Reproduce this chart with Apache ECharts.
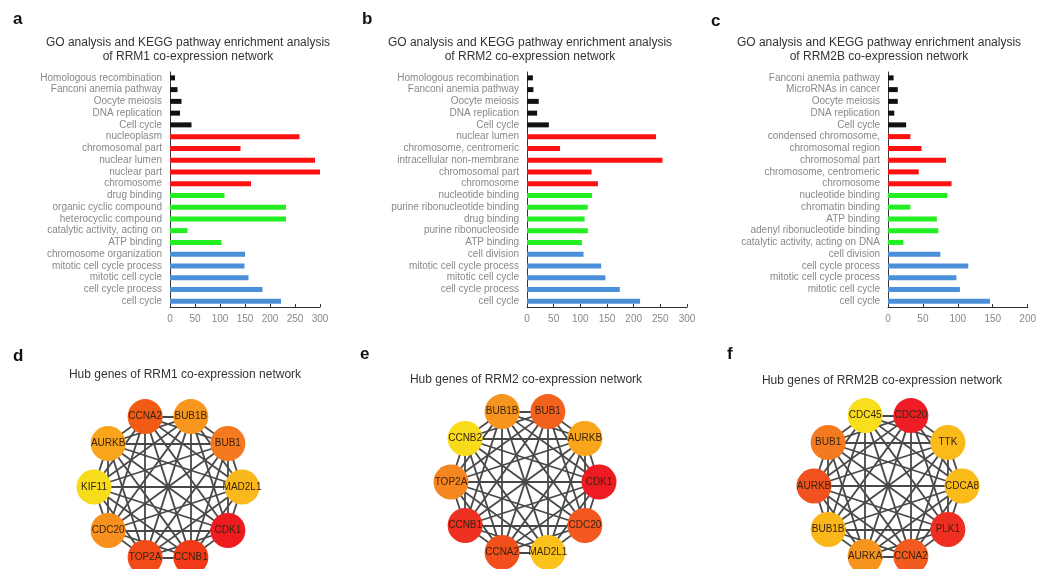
<!DOCTYPE html>
<html>
<head>
<meta charset="utf-8">
<script src="https://cdn.jsdelivr.net/npm/echarts@6/dist/echarts.min.js"></script>
<style>
  html, body { margin: 0; padding: 0; background: #fff; }
  #main { width: 1039px; height: 569px; }
</style>
</head>
<body>
<div id="main"></div>
<script>
// bar chart data, top to bottom
var catsA = ['Homologous recombination', 'Fanconi anemia pathway', 'Oocyte meiosis', 'DNA replication', 'Cell cycle',
    'nucleoplasm', 'chromosomal part', 'nuclear lumen', 'nuclear part', 'chromosome',
    'drug binding', 'organic cyclic compound', 'heterocyclic compound', 'catalytic activity, acting on', 'ATP binding',
    'chromosome organization', 'mitotic cell cycle process', 'mitotic cell cycle', 'cell cycle process', 'cell cycle'];
var valsA = [10, 15, 23, 20, 43, 259, 141, 290, 303, 162, 109, 232, 232, 35, 103, 150, 149, 157, 185, 222];

var catsB = ['Homologous recombination', 'Fanconi anemia pathway', 'Oocyte meiosis', 'DNA replication', 'Cell cycle',
    'nuclear lumen', 'chromosome, centromeric', 'intracellular non-membrane', 'chromosomal part', 'chromosome',
    'nucleotide binding', 'purine ribonucleotide binding', 'drug binding', 'purine ribonucleoside', 'ATP binding',
    'cell division', 'mitotic cell cycle process', 'mitotic cell cycle', 'cell cycle process', 'cell cycle'];
var valsB = [11, 12, 22, 19, 41, 242, 62, 254, 121, 133, 122, 114, 108, 114, 103, 106, 139, 147, 174, 212];

var catsC = ['Fanconi anemia pathway', 'MicroRNAs in cancer', 'Oocyte meiosis', 'DNA replication', 'Cell cycle',
    'condensed chromosome,', 'chromosomal region', 'chromosomal part', 'chromosome, centromeric', 'chromosome',
    'nucleotide binding', 'chromatin binding', 'ATP binding', 'adenyl ribonucleotide binding', 'catalytic activity, acting on DNA',
    'cell division', 'cell cycle process', 'mitotic cell cycle process', 'mitotic cell cycle', 'cell cycle'];
var valsC = [8, 14, 14, 9, 26, 32, 48, 83, 44, 91, 85, 32, 70, 72, 22, 75, 115, 98, 103, 146];

// KEGG, CC, MF, BP  (5 terms each)
var groupColors = ['#111111', '#ff1010', '#22ee22', '#4a8fd8'];

// hub genes, ordered counter-clockwise from the right (0 deg)
var genesD = ['MAD2L1', 'BUB1', 'BUB1B', 'CCNA2', 'AURKB', 'KIF11', 'CDC20', 'TOP2A', 'CCNB1', 'CDK1'];
var colorsD = ['#f9b81b', '#f4791f', '#f8961d', '#f15b16', '#f8a51b', '#f7dc1b', '#f7901d', '#f24a18', '#f23a18', '#ee1b1f'];
var genesE = ['CDK1', 'AURKB', 'BUB1', 'BUB1B', 'CCNB2', 'TOP2A', 'CCNB1', 'CCNA2', 'MAD2L1', 'CDC20'];
var colorsE = ['#ee1b22', '#f9a51b', '#f2621c', '#f7941d', '#f8dc1c', '#f6861f', '#ee3020', '#f14f1c', '#fbc31a', '#f25820'];
var genesF = ['CDCA8', 'TTK', 'CDC20', 'CDC45', 'BUB1', 'AURKB', 'BUB1B', 'AURKA', 'CCNA2', 'PLK1'];
var colorsF = ['#fbbc19', '#fbb91a', '#ee1c24', '#f9df1b', '#f47a20', '#f1501f', '#fbb71a', '#f7941d', '#f25a20', '#ef2e22'];

var chart = echarts.init(document.getElementById('main'));
var font = 'Liberation Sans, Arial, sans-serif';

function barParts(idx, cats, vals, left, width, max) {
    return {
        grid: { left: left, top: 72, width: width, height: 235 },
        xAxis: {
            gridIndex: idx, type: 'value', min: 0, max: max, interval: 50,
            splitLine: { show: false },
            axisLine: { show: true, lineStyle: { color: '#333', width: 1 } },
            axisTick: { show: true, inside: true, length: 3, lineStyle: { color: '#333' } },
            axisLabel: { color: '#888', fontSize: 10, fontFamily: font, margin: 7 }
        },
        yAxis: {
            gridIndex: idx, type: 'category', data: cats, inverse: true,
            axisLine: { show: true, lineStyle: { color: '#333', width: 1 } },
            axisTick: { show: false },
            axisLabel: { color: '#888', fontSize: 10, fontFamily: font, margin: 8, interval: 0 }
        },
        series: {
            type: 'bar', xAxisIndex: idx, yAxisIndex: idx, barWidth: 5,
            data: vals.map(function (v, i) {
                return { value: v, itemStyle: { color: groupColors[Math.floor(i / 5)] } };
            })
        }
    };
}

function netParts(idx, genes, colors, center) {
    var links = [];
    for (var i = 0; i < genes.length; i++) {
        for (var j = i + 1; j < genes.length; j++) {
            links.push({ source: genes[i], target: genes[j] });
        }
    }
    return {
        polar: { center: center, radius: 74 },
        angleAxis: { polarIndex: idx, type: 'value', min: 0, max: 360, startAngle: 0, clockwise: false, show: false },
        radiusAxis: { polarIndex: idx, type: 'value', min: 0, max: 1, show: false },
        series: {
            type: 'graph', coordinateSystem: 'polar', polarIndex: idx,
            symbolSize: 35,
            data: genes.map(function (g, k) {
                return { name: g, value: [1, k * 36], itemStyle: { color: colors[k] } };
            }),
            links: links,
            lineStyle: { color: '#484848', width: 1.8, opacity: 1 },
            label: { show: true, position: 'inside', color: '#3a2410', fontSize: 10, fontFamily: font },
            emphasis: { disabled: true }
        }
    };
}

var bars = [
    barParts(0, catsA, valsA, 170, 150, 300),
    barParts(1, catsB, valsB, 527, 160, 300),
    barParts(2, catsC, valsC, 888, 143, 200)
];
var nets = [
    netParts(0, genesD, colorsD, [168, 487]),
    netParts(1, genesE, colorsE, [525, 482]),
    netParts(2, genesF, colorsF, [888, 486])
];

var titleStyle = { color: '#333', fontSize: 12, fontWeight: 'normal', fontFamily: font, lineHeight: 14 };
var hubStyle = { color: '#333', fontSize: 12, fontWeight: 'normal', fontFamily: font };
var letterStyle = { color: '#111', fontSize: 17, fontWeight: 'bold', fontFamily: font };

function goTitle(gene, cx) {
    return { text: 'GO analysis and KEGG pathway enrichment analysis\nof ' + gene + ' co-expression network',
        left: cx, top: 36, padding: 0, textAlign: 'center', textStyle: titleStyle };
}
function hubTitle(gene, cx, y) {
    return { text: 'Hub genes of ' + gene + ' co-expression network', left: cx, top: y, padding: 0,
        textAlign: 'center', textStyle: hubStyle };
}
function letter(t, x, y) {
    return { text: t, left: x, top: y, padding: 0, textStyle: letterStyle };
}

var option = {
    backgroundColor: '#fff',
    animation: false,
    title: [
        letter('a', 13, 11), letter('b', 362, 11), letter('c', 711, 13),
        letter('d', 13, 348), letter('e', 360, 346), letter('f', 727, 346),
        goTitle('RRM1', 188), goTitle('RRM2', 530), goTitle('RRM2B', 879),
        hubTitle('RRM1', 185, 369), hubTitle('RRM2', 526, 374), hubTitle('RRM2B', 882, 375)
    ],
    grid: bars.map(function (b) { return b.grid; }),
    xAxis: bars.map(function (b) { return b.xAxis; }),
    yAxis: bars.map(function (b) { return b.yAxis; }),
    polar: nets.map(function (n) { return n.polar; }),
    angleAxis: nets.map(function (n) { return n.angleAxis; }),
    radiusAxis: nets.map(function (n) { return n.radiusAxis; }),
    series: bars.map(function (b) { return b.series; }).concat(nets.map(function (n) { return n.series; }))
};

chart.setOption(option);
</script>
</body>
</html>
